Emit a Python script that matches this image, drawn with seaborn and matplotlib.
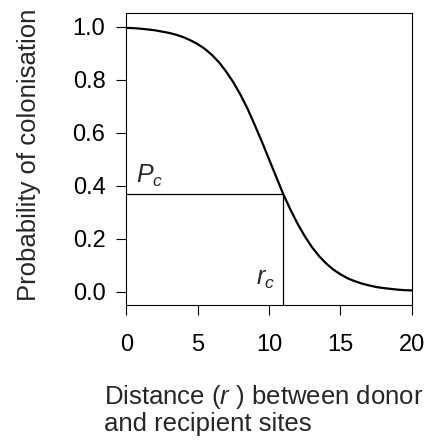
import matplotlib
matplotlib.use("Agg")
import matplotlib.pyplot as plt
import seaborn as sns
import pandas as pd

# Distance between donor and recipient sites
distance = [0, 0.5, 1, 1.5, 2, 2.5, 3, 3.5, 4, 4.5, 5, 5.5, 6, 6.5, 7, 7.5, 8, 8.5,
            9, 9.5, 10, 10.5, 11, 11.5, 12, 12.5, 13, 13.5, 14, 14.5, 15, 15.5,
            16, 16.5, 17, 17.5, 18, 18.5, 19, 19.5, 20]
# Probability of colonisation at each distance
probability = [0.995, 0.994, 0.992, 0.989, 0.986, 0.981, 0.976, 0.969, 0.960, 0.948,
               0.934, 0.916, 0.893, 0.865, 0.830, 0.790, 0.743, 0.690, 0.629, 0.566,
               0.500, 0.434, 0.368, 0.310, 0.257, 0.210, 0.169, 0.135, 0.107, 0.084,
               0.066, 0.051, 0.040, 0.031, 0.024, 0.018, 0.014, 0.011, 0.008, 0.006,
               0.005]
# Critical distance and the probability there
r_c = 11
P_c = 0.368

x_ticks = [0, 5, 10, 15, 20]
y_ticks = [0.0, 0.2, 0.4, 0.6, 0.8, 1.0]

sns.set_theme(style="ticks")
plt.rcParams["font.family"] = ["Liberation Sans", "DejaVu Sans"]
plt.rcParams["mathtext.fontset"] = "custom"
plt.rcParams["mathtext.rm"] = "Liberation Sans"
plt.rcParams["mathtext.it"] = "Liberation Sans:italic"

df = pd.DataFrame({"distance": distance, "probability": probability})

fig = plt.figure(figsize=(4.30, 4.43), dpi=100)
ax = fig.add_axes([0.2937, 0.3115, 0.6637, 0.6585])

sns.lineplot(data=df, x="distance", y="probability", color="black",
             linewidth=1.6, ax=ax)

ymin, ymax = -0.05, 1.05
ax.plot([0, r_c], [P_c, P_c], color="black", linewidth=0.9)
ax.plot([r_c, r_c], [ymin, P_c], color="black", linewidth=0.9)

ax.set_xlim(0, 20)
ax.set_ylim(ymin, ymax)
ax.set_xticks(x_ticks)
ax.set_xticklabels([str(t) for t in x_ticks])
ax.set_yticks(y_ticks)
ax.set_yticklabels([f"{t:.1f}" for t in y_ticks])
ax.tick_params(axis="both", direction="out", length=7, width=0.8,
               color="black", labelsize=17, labelcolor="black")
ax.tick_params(axis="x", pad=14)
ax.tick_params(axis="y", pad=8)
for s in ax.spines.values():
    s.set_visible(True)
    s.set_color("black")
    s.set_linewidth(0.8)
ax.set_xlabel("")
ax.set_ylabel("")

ax.text(0.7, 0.409, r"$P_c$", fontsize=18, ha="left", va="baseline")
ax.text(r_c - 0.6, 0.025, r"$r_c$", fontsize=18, ha="right", va="baseline")

fig.text(29 / 430, 1 - 155 / 443, "Probability of colonisation", rotation=90,
         fontsize=18.5, ha="center", va="center")
fig.text(104 / 430, 1 - 383 / 443, "Distance ($r$ ) between donor\nand recipient sites",
         fontsize=18.5, ha="left", va="top", linespacing=1.05)

fig.savefig("out.png", dpi=100)
